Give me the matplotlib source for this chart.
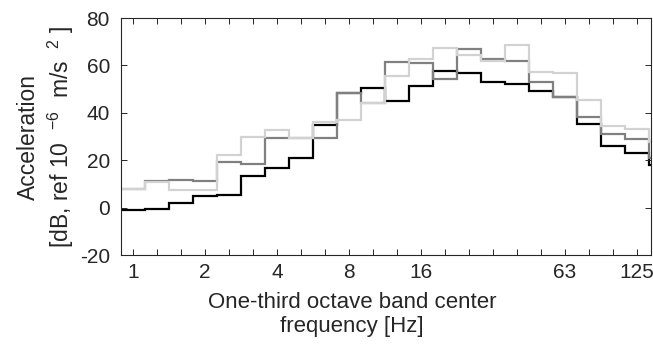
import numpy as np
import matplotlib
matplotlib.use("Agg")
import matplotlib.pyplot as plt
from matplotlib.ticker import NullFormatter, FixedLocator

plt.rcParams['font.family'] = ['Liberation Sans', 'DejaVu Sans']
plt.rcParams['mathtext.fontset'] = 'custom'
plt.rcParams['mathtext.rm'] = 'Liberation Sans'
plt.rcParams['mathtext.it'] = 'Liberation Sans:italic'
plt.rcParams['axes.unicode_minus'] = False

# One-third octave band index (0 -> 1 Hz ... 22 -> 160 Hz)
band_index = np.arange(23)
band_names = ['1', '1.25', '1.6', '2', '2.5', '3.15', '4', '5', '6.3', '8', '10', '12.5',
              '16', '20', '25', '31.5', '40', '50', '63', '80', '100', '125', '160']

series_black = [-1.1, -0.6, 2.0, 4.8, 5.5, 13.3, 16.8, 20.9, 34.7, 48.5, 50.6, 44.8,
                51.4, 57.8, 56.8, 53.2, 52.1, 49.4, 46.5, 35.3, 25.8, 23.1, 17.8]
series_dark = [7.8, 11.1, 11.8, 11.1, 19.2, 18.6, 29.4, 29.2, 29.4, 48.5, 44.1, 61.6,
               60.9, 54.2, 66.8, 62.8, 61.8, 53.0, 46.8, 38.2, 31.0, 28.9, 21.0]
series_light = [7.7, 10.9, 7.6, 7.6, 22.1, 30.0, 32.9, 29.2, 36.3, 36.8, 44.1, 55.4,
                62.8, 67.2, 64.2, 62.0, 68.6, 57.3, 56.8, 45.2, 34.3, 33.1, 27.5]

xtick_index = [0, 3, 6, 9, 12, 18, 21]
xtick_labels = ['1', '2', '4', '8', '16', '63', '125']
yticks = [-20, 0, 20, 40, 60, 80]

centers = 2.0 ** (band_index / 3.0)
edges = 2.0 ** ((np.arange(len(band_index) + 1) - 0.5) / 3.0)

fig = plt.figure(figsize=(6.53, 3.49), dpi=100)
ax = fig.add_axes([0.1853, 0.2693, 0.8117, 0.6791])

lw = 1.6
ax.stairs(series_black, edges, color='black', linewidth=lw, baseline=None)
ax.stairs(series_dark, edges, color='#808080', linewidth=lw, baseline=None)
ax.stairs(series_light, edges, color='#d2d2d2', linewidth=lw, baseline=None)

ax.set_xscale('log')
ax.set_xlim(2.0 ** (-0.5 / 3.0), 2.0 ** (21.58 / 3.0))
ax.set_ylim(-20, 80)

ax.xaxis.set_major_locator(FixedLocator(centers[xtick_index]))
ax.set_xticklabels(xtick_labels)
ax.xaxis.set_minor_locator(FixedLocator(centers[:22]))
ax.xaxis.set_minor_formatter(NullFormatter())
ax.set_yticks(yticks)

ax.tick_params(axis='both', which='both', direction='in', top=True, right=True,
               length=4, width=0.7, color='#262626', labelcolor='#262626',
               labelsize=15)
ax.tick_params(axis='x', which='both', pad=6)
ax.tick_params(axis='y', pad=8)
for s in ax.spines.values():
    s.set_color('#262626')
    s.set_linewidth(0.8)

ax.set_xlabel('One-third octave band center\nfrequency [Hz]', fontsize=16,
              color='#262626', linespacing=1.15)
ax.xaxis.set_label_coords(0.436, -0.158)
ax.set_ylabel('Acceleration\n[dB, ref 10  $^{-6}$  m/s  $^{2}$ ]', fontsize=16.5,
              color='#262626', labelpad=3, linespacing=1.25)

fig.savefig('out.png', dpi=100)
